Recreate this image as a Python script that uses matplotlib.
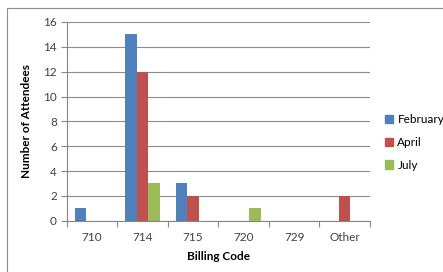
import matplotlib
matplotlib.use("Agg")
import matplotlib.pyplot as plt
import numpy as np
from matplotlib.patches import Rectangle

categories = ["710", "714", "715", "720", "729", "Other"]
february = [1, 15, 3, 0, 0, 0]
april = [0, 12, 2, 0, 0, 2]
july = [0, 3, 0, 1, 0, 0]
series_names = ["February", "April", "July"]
colors = ["#4F81BD", "#C0504D", "#9BBB59"]

plt.rcParams['font.family'] = ['Lato', 'DejaVu Sans']

W, H = 443, 272
fig = plt.figure(figsize=(W/100, H/100), dpi=100)
fig.patch.set_facecolor("white")

# outer chart frame
fig.add_artist(Rectangle((7/W, -0.1), 1.2, (H-8)/H + 0.1, transform=fig.transFigure,
                         fill=False, edgecolor="#8c8c8c", linewidth=0.8))

x0, x1 = 66.7, 370
y_top, y_bot = 22, 220.7
ax = fig.add_axes([x0/W, 1 - y_bot/H, (x1-x0)/W, (y_bot-y_top)/H])

n = len(categories)
x = np.arange(n)
bw = 0.225
for i, (vals, c, name) in enumerate(zip([february, april, july], colors, series_names)):
    ax.bar(x + (i-1)*bw, vals, width=bw, color=c, label=name, zorder=3)

ax.set_xlim(-0.5, n-0.5)
ax.set_ylim(0, 16)
ax.set_yticks(range(0, 17, 2))
ax.set_xticks(x)
ax.set_xticklabels(categories)
ax.set_xticks(np.arange(-0.5, n, 1), minor=True)
ax.tick_params(axis='x', which='major', length=0, labelsize=8.5, pad=8)
ax.tick_params(axis='x', which='minor', length=4, width=0.8, color="#868686", direction='out')
ax.tick_params(axis='y', length=4, width=0.8, color="#868686", labelsize=8.5, pad=3)
for lbl in ax.get_xticklabels() + ax.get_yticklabels():
    lbl.set_color("#404040")
ax.grid(axis='y', color="#8c8c8c", linewidth=0.8, zorder=0)
for s in ["top", "right"]:
    ax.spines[s].set_visible(False)
ax.spines["left"].set_color("#868686")
ax.spines["bottom"].set_color("#868686")
ax.spines["left"].set_linewidth(0.8)
ax.spines["bottom"].set_linewidth(0.8)

ax.set_xlabel("Billing Code", fontsize=8.5, fontweight="bold", labelpad=6)
ax.set_ylabel("Number of Attendees", fontsize=8.5, fontweight="bold", labelpad=8)

handles = [Rectangle((0, 0), 1, 1, color=c) for c in colors]
leg = fig.legend(handles, series_names, loc="upper left",
                 bbox_to_anchor=(385/W, 1 - 114/H), frameon=False,
                 fontsize=8.5, handlelength=0.7, handleheight=0.7,
                 handletextpad=0.35, labelspacing=1.0, borderaxespad=0, borderpad=0)

fig.savefig("out.png", dpi=100, facecolor="white")
